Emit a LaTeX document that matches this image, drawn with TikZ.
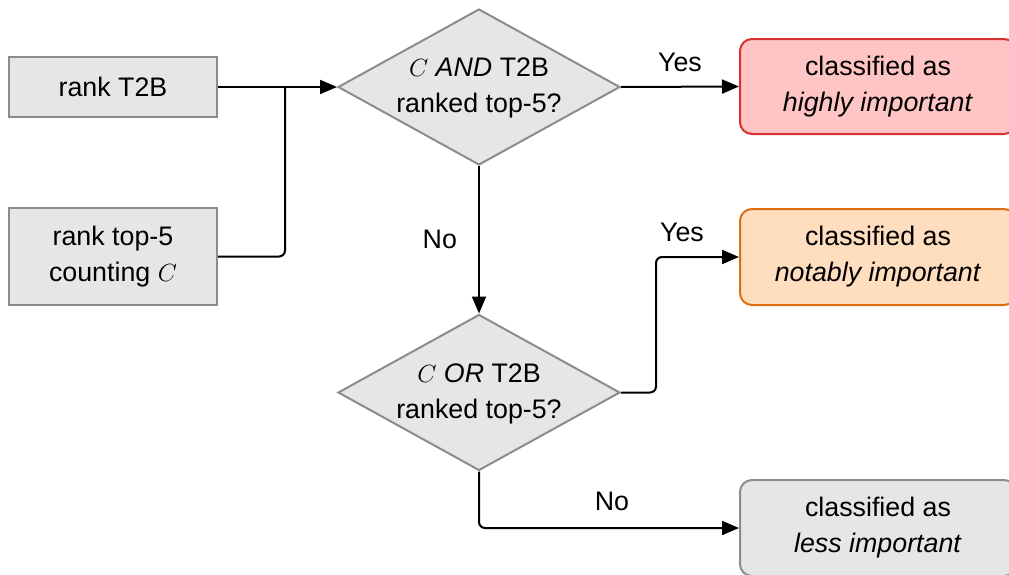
\documentclass[tikz,border=0pt]{standalone}
\usepackage{fontspec}
\setmainfont{Liberation Sans}
\usetikzlibrary{shapes.geometric,arrows.meta}
\definecolor{boxgray}{HTML}{E6E6E6}
\definecolor{bordergray}{HTML}{8C8C8C}
\definecolor{redfill}{HTML}{FFC4C4}
\definecolor{redline}{HTML}{D93030}
\definecolor{orangefill}{HTML}{FFDDBF}
\definecolor{orangeline}{HTML}{DD6E10}
\begin{document}
\begin{tikzpicture}[x=1pt,y=-1pt,
  every node/.style={font=\fontsize{26.8}{36}\selectfont, inner sep=0pt, align=center},
  inbox/.style={rectangle, draw=bordergray, fill=boxgray, line width=2pt, minimum width=208pt},
  dia/.style={diamond, draw=bordergray, fill=boxgray, line width=2pt, minimum width=282pt, minimum height=156pt},
  outbox/.style={rectangle, rounded corners=12pt, line width=2pt, minimum width=276pt, minimum height=95pt},
  conn/.style={line width=2pt, rounded corners=6pt},
  arr/.style={conn, -{Triangle[length=17pt,width=14pt]}}
]
\useasboundingbox (0,0) rectangle (1009,574);
\clip (0,0) rectangle (1009,574);

\node[inbox, minimum height=60pt] (t2b) at (113,87) {rank T2B};
\node[inbox, minimum height=97pt] (top5) at (113,256.5) {rank top-5\\counting $C$};

\node[dia] (d1) at (479,87) {};
\node (d1t) at ([yshift=-1pt]d1.center) {$C$ \textit{AND} T2B\\ranked top-5?};
\node[dia] (d2) at (479,392.5) {};
\node (d2t) at ([yshift=-1pt]d2.center) {$C$ \textit{OR} T2B\\ranked top-5?};

\node[outbox, draw=redline, fill=redfill] (high) at (878,86.5) {classified as\\\textit{highly important}};
\node[outbox, draw=orangeline, fill=orangefill, minimum height=96pt] (notab) at (878,257) {classified as\\\textit{notably important}};
\node[outbox, draw=bordergray, fill=boxgray, minimum height=96pt] (less) at (878,528) {classified as\\\textit{less important}};

\coordinate (j) at (285,87);
\draw[arr] (t2b.east) -- (d1.west);
\draw[conn] (top5.east) -| (j);

\draw[arr] (d1.east) -- node[above=14pt] (yes1) {Yes} (high.west);
\draw[arr] (d1.south) -- node[left=21pt] (no1) {No} (d2.north);
\draw[arr] (d2.east) -- (656,392.5) |- (notab.west);
\node (yes2) at (682,232) {Yes};
\draw[arr] (d2.south) |- (less.west);
\node (no2) at (612,501) {No};
\end{tikzpicture}
\end{document}
